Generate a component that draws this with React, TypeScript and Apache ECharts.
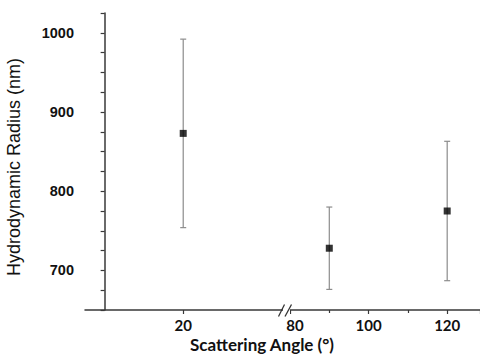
import React, { useEffect, useRef } from "react";
import * as echarts from "echarts";

// Scattering angle (degrees) and measured hydrodynamic radius (nm)
const angles = [20, 90, 120];
const radius = [873, 728, 775];
const radiusLow = [754, 676, 687];
const radiusHigh = [992, 780, 863];

// The x axis is broken between these two angles
const breakFrom = 45.4;
const breakTo = 80;

const leftTicks = [20];

const yTitle = "Hydrodynamic Radius (nm)";
const xTitle = "Scattering Angle (°)";

const AXIS_COLOR = "#383838";
const ERR_COLOR = "#8c8c8c";

export default function App() {
  const ref = useRef<HTMLDivElement>(null);

  useEffect(() => {
    if (!ref.current) return;
    const chart = echarts.init(ref.current, undefined, { renderer: "svg" });

    const rows = angles.map((a, i) => ({
      angle: a,
      r: radius[i],
      lo: radiusLow[i],
      hi: radiusHigh[i],
    }));
    const leftRows = rows.filter((d) => d.angle < breakTo);
    const rightRows = rows.filter((d) => d.angle >= breakTo);

    const errorSeries = (rowsPart: typeof rows, idx: number) => ({
      type: "custom",
      xAxisIndex: idx,
      yAxisIndex: idx,
      data: rowsPart.map((d) => [d.angle, d.lo, d.hi]),
      z: 1,
      renderItem: (_params: any, api: any) => {
        const x = api.value(0);
        const top = api.coord([x, api.value(2)]);
        const bot = api.coord([x, api.value(1)]);
        const cap = 3;
        const style = { stroke: ERR_COLOR, lineWidth: 1.2 };
        return {
          type: "group",
          children: [
            { type: "line", shape: { x1: top[0], y1: top[1], x2: bot[0], y2: bot[1] }, style },
            { type: "line", shape: { x1: top[0] - cap, y1: top[1], x2: top[0] + cap, y2: top[1] }, style },
            { type: "line", shape: { x1: bot[0] - cap, y1: bot[1], x2: bot[0] + cap, y2: bot[1] }, style },
          ],
        };
      },
    });

    const pointSeries = (rowsPart: typeof rows, idx: number) => ({
      type: "scatter",
      xAxisIndex: idx,
      yAxisIndex: idx,
      symbol: "rect",
      symbolSize: 7,
      itemStyle: { color: "#000" },
      z: 3,
      data: rowsPart.map((d) => [d.angle, d.r]),
    });

    const yCommon = {
      type: "value",
      min: 650,
      max: 1025,
      interval: 25,
      splitLine: { show: false },
    };

    const xLabelStyle = {
      color: "#111",
      fontFamily: "Lato",
      fontWeight: "bold",
      fontSize: 15,
      lineHeight: 14,
      margin: 8,
    };

    chart.setOption({
      animation: false,
      grid: [
        { left: 85, top: 13, width: 198, bottom: 44 },
        { left: 290, top: 13, right: 0, bottom: 44 },
      ],
      xAxis: [
        {
          type: "value",
          gridIndex: 0,
          min: -5,
          max: breakFrom,
          splitLine: { show: false },
          axisLine: { lineStyle: { color: AXIS_COLOR, width: 1.5 } },
          axisTick: { customValues: leftTicks, length: 4, lineStyle: { color: AXIS_COLOR, width: 1.2 } },
          axisLabel: { customValues: leftTicks, ...xLabelStyle },
        },
        {
          type: "value",
          gridIndex: 1,
          min: breakTo,
          max: 128.35,
          interval: 20,
          splitLine: { show: false },
          axisLine: { lineStyle: { color: AXIS_COLOR, width: 1.5 } },
          axisTick: { length: 4, lineStyle: { color: AXIS_COLOR, width: 1.2 } },
          minorTick: { show: true, splitNumber: 2, length: 3, lineStyle: { color: AXIS_COLOR, width: 1.2 } },
          axisLabel: {
            ...xLabelStyle,
            formatter: (v: number) => (v === breakTo ? `{shift|${v}}` : `${v}`),
            rich: {
              shift: {
                color: "#111",
                fontFamily: "Lato",
                fontWeight: "bold",
                fontSize: 15,
                lineHeight: 14,
                padding: [0, 0, 0, 10],
              },
            },
          },
        },
      ],
      yAxis: [
        {
          ...yCommon,
          gridIndex: 0,
          axisLine: { show: true, lineStyle: { color: AXIS_COLOR, width: 1.5 } },
          axisTick: { show: true, length: 4, lineStyle: { color: AXIS_COLOR, width: 1.2 } },
          axisLabel: {
            color: "#111",
            fontFamily: "Liberation Sans",
            fontWeight: "bold",
            fontSize: 14.5,
            margin: 11,
            formatter: (v: number) => (v % 100 === 0 ? `${v}` : ""),
          },
        },
        { ...yCommon, gridIndex: 1, show: false },
      ],
      graphic: [
        // gap in the x axis line with the break marks
        { type: "rect", shape: { x: 283, y: 306, width: 7, height: 10 }, style: { fill: "#fff" }, z: 50 },
        { type: "line", shape: { x1: 278.5, y1: 316.5, x2: 284.5, y2: 304.5 }, style: { stroke: "#333", lineWidth: 1.3 }, z: 51 },
        { type: "line", shape: { x1: 285, y1: 316.5, x2: 291.5, y2: 304.5 }, style: { stroke: "#333", lineWidth: 1.3 }, z: 51 },
        {
          type: "text",
          x: 14,
          y: 167,
          rotation: Math.PI / 2,
          style: {
            text: yTitle,
            fill: "#111",
            fontFamily: "Liberation Sans",
            fontSize: 18,
            align: "center",
            verticalAlign: "middle",
          },
        },
        {
          type: "text",
          x: 262,
          y: 344,
          style: {
            text: xTitle,
            fill: "#111",
            fontFamily: "Lato",
            fontWeight: "bold",
            fontSize: 17,
            lineHeight: 17,
            align: "center",
            verticalAlign: "middle",
          },
        },
      ],
      series: [
        errorSeries(leftRows, 0),
        errorSeries(rightRows, 1),
        pointSeries(leftRows, 0),
        pointSeries(rightRows, 1),
      ],
    });

    return () => chart.dispose();
  }, []);

  return (
    <div
      ref={ref}
      style={{ position: "fixed", left: 0, top: 0, width: 480, height: 354, background: "#fff" }}
    />
  );
}
